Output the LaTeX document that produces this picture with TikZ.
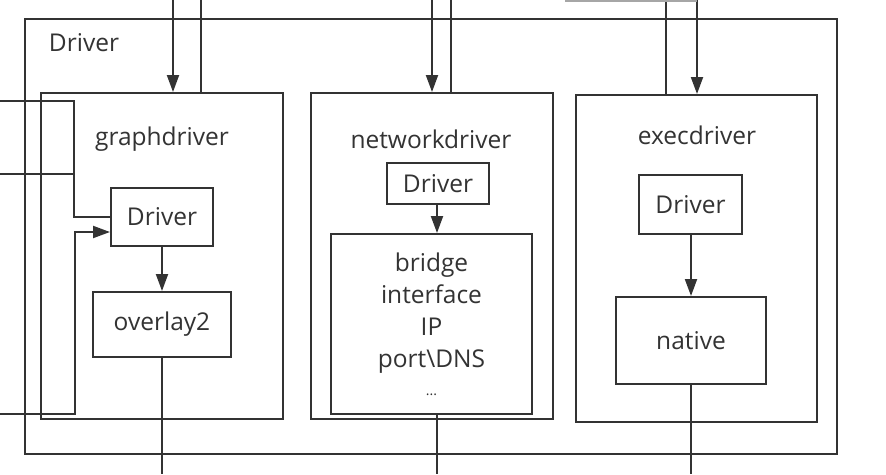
\documentclass[tikz,border=0pt]{standalone}
\usepackage{fontspec}
\setmainfont{Open Sans}
\usetikzlibrary{arrows.meta,calc}
\definecolor{ink}{HTML}{333333}
\definecolor{txt}{HTML}{333333}
\begin{document}
\begin{tikzpicture}[x=1pt,y=-1pt,
  line width=2pt, draw=ink,
  box/.style={draw=ink, line width=2pt, inner sep=0pt, text=txt,
    font=\fontsize{24.5}{32}\selectfont, align=center},
  lbl/.style={inner sep=0pt, text=txt, font=\fontsize{24.5}{32}\selectfont},
  conn/.style={draw=ink, line width=2pt},
  arr/.style={conn, -{Triangle[length=17pt,width=12pt]}}]
\useasboundingbox (0,0) rectangle (886,474);
\fill[white] (0,0) rectangle (886,474);
% outer box
\node[box, minimum width=812, minimum height=435] (outer) at (431,236.5) {};
\node[lbl] (outerlbl) at (84,43) {Driver};
% containers
\node[box, minimum width=242, minimum height=326] (gd) at (162,256) {};
\node[box, minimum width=242, minimum height=326] (nd) at (432,256) {};
\node[box, minimum width=241, minimum height=327] (ed) at (696.5,258.5) {};
\node[lbl] (gdlbl) at (162,139) {graphdriver};
\node[lbl] (ndlbl) at (431,139) {networkdriver};
\node[lbl] (edlbl) at (697,135) {execdriver};
% inner boxes
\node[box, minimum width=102, minimum height=58] (gdD) at (162,217) {Driver};
\node[box, minimum width=138, minimum height=65] (ov) at (162,324.5) {overlay2};
\node[box, minimum width=102, minimum height=41] (ndD) at (438,183.5) {Driver};
\node[box, minimum width=201, minimum height=180] (ndB) at (431.5,324)
  {bridge\\interface\\IP\\port\textbackslash DNS\\[-4pt]{\fontsize{14}{16}\selectfont ...}};
\node[box, minimum width=103, minimum height=59] (edD) at (690.5,204.5) {Driver};
\node[box, minimum width=150, minimum height=87] (nat) at (691,340.5) {native};
% free ends
\coordinate (gdin) at (173,0);
\coordinate (gdout) at (201,0);
\coordinate (ndin) at (432,0);
\coordinate (ndout) at (451,0);
\coordinate (edout) at (666,0);
\coordinate (edin) at (697,0);
\coordinate (gtop1) at (565,0.8);
\coordinate (gtop2) at (697,0.8);
\coordinate (l1) at (0,101);
\coordinate (l2) at (0,174);
\coordinate (l3) at (0,414);
\coordinate (b1) at (162,474);
\coordinate (b2) at (437,474);
\coordinate (b3) at (691,474);
% top connectors
\draw[arr] (gdin) -- (gdin |- gd.north);
\draw[conn] (gdout) -- (gdout |- gd.north);
\draw[arr] (ndin) -- (ndin |- nd.north);
\draw[conn] (ndout) -- (ndout |- nd.north);
\draw[conn] (edout) -- (edout |- ed.north);
\draw[arr] (edin) -- (edin |- ed.north);
\draw[draw=gray!70, line width=1.4pt] (gtop1) -- (gtop2);
% left connectors
\draw[conn] (l1) -- (74,101) |- (gdD.west);
\draw[conn] (l2) -- (74,174);
\draw[arr] (l3) -| ($(gdD.west)+(-35,15)$) -- ($(gdD.west)+(0,15)$);
% inner connectors
\draw[arr] (gdD.south) -- (ov.north);
\draw[conn] (ov.south) -- (b1);
\draw[arr] (ndD.south -| b2) -- (ndB.north -| b2);
\draw[conn] (ndB.south -| b2) -- (b2);
\draw[arr] (edD.south -| b3) -- (nat.north);
\draw[conn] (nat.south) -- (b3);
\end{tikzpicture}
\end{document}
